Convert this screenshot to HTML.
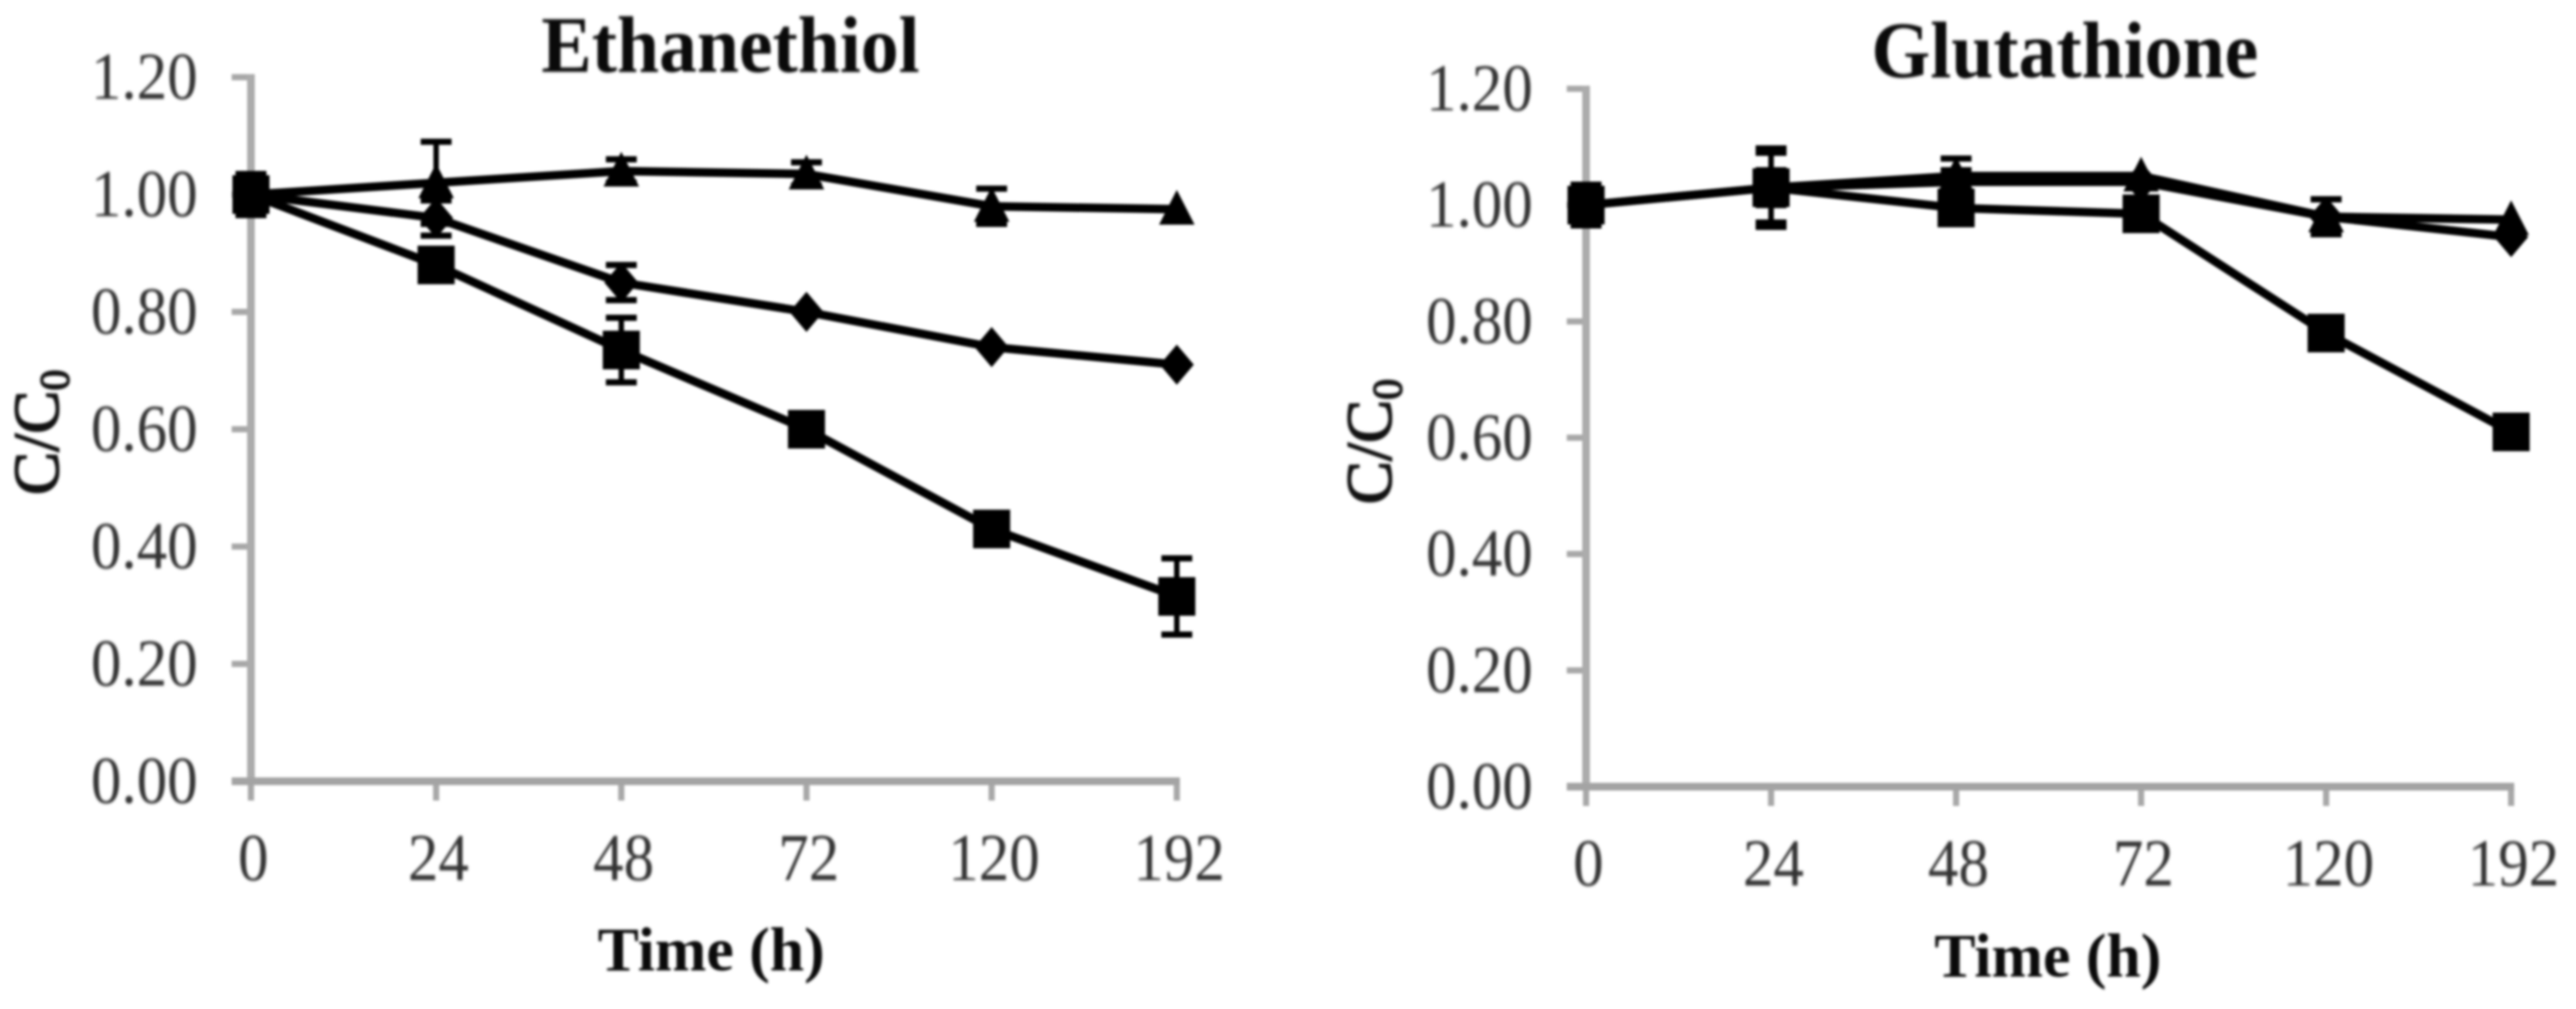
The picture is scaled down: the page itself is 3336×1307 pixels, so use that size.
<!DOCTYPE html>
<html lang="en">
<head>
<meta charset="utf-8">
<title>Ethanethiol and Glutathione C/C0 over time</title>
<style>
html,body{margin:0;padding:0;background:#fff;width:3336px;height:1307px;overflow:hidden}
svg{display:block;filter:blur(1.5px)}
text{font-family:"Liberation Serif",serif;filter:blur(0.9px)}
</style>
</head>
<body>
<svg id="figure" xmlns="http://www.w3.org/2000/svg" width="3336" height="1307" viewBox="0 0 3336 1307"></svg>
<script>
const categories = ['0', '24', '48', '72', '120', '192'];
const yTickValues = [0, 0.2, 0.4, 0.6, 0.8, 1.0, 1.2];

const ethTriangle = [1.00, 1.02, 1.04, 1.035, 0.98, 0.975];
const ethTriangleErr = [0, 0.07, 0.02, 0.02, 0.03, 0];
const ethDiamond = [1.00, 0.96, 0.85, 0.80, 0.74, 0.71];
const ethDiamondErr = [0.035, 0.03, 0.03, 0, 0, 0];
const ethSquare = [1.00, 0.88, 0.735, 0.60, 0.43, 0.315];
const ethSquareErr = [0, 0, 0.055, 0, 0, 0.065];

const gluTriangle = [1.00, 1.03, 1.05, 1.05, 0.98, 0.975];
const gluTriangleErr = [0, 0.06, 0.03, 0, 0.03, 0];
const gluDiamond = [1.00, 1.03, 1.04, 1.04, 0.98, 0.945];
const gluDiamondErr = [0.035, 0.0675, 0.02, 0, 0.03, 0];
const gluSquare = [1.00, 1.03, 0.995, 0.985, 0.78, 0.61];
const gluSquareErr = [0, 0.03, 0, 0, 0, 0];

const NS = 'http://www.w3.org/2000/svg';
const svg = document.getElementById('figure');

function make(parent, tag, props) {
  const node = document.createElementNS(NS, tag);
  for (const key in props) node.setAttribute(key, props[key]);
  parent.appendChild(node);
  return node;
}

function drawPanel(p) {
  const xOf = i => p.x0 + i * (p.x1 - p.x0) / (categories.length - 1);
  const yOf = v => p.y0 + (p.y1 - p.y0) * v / 1.2;

  const panel = make(svg, 'g', {});
  
  

  const title = make(panel, 'text', {'text-anchor': 'middle', 'font-size': 98, 'font-weight': 'bold', fill: '#0a0a0a', transform: 'translate(' + p.titleX + ' ' + p.titleY + ') scale(1 1.06)'});
  title.textContent = p.title;
  
  

  yTickValues.forEach(v => {
    const tick = make(panel, 'line', {x1: p.x0 - 25, x2: p.x0, y1: yOf(v), y2: yOf(v), stroke: '#a8a8a8', 'stroke-width': 8});
    
    
    const label = make(panel, 'text', {'text-anchor': 'end', 'font-size': 79, fill: '#333', transform: 'translate(' + (p.x0 - 69) + ' ' + (yOf(v) + 28) + ') scale(1 1.1)'});
    label.textContent = v.toFixed(2);
    
    
  });

  categories.forEach((c, i) => {
    const tick = make(panel, 'line', {x1: xOf(i), x2: xOf(i), y1: p.y0, y2: p.y0 + 25, stroke: '#a8a8a8', 'stroke-width': 8});
    
    
    const label = make(panel, 'text', {'text-anchor': 'middle', 'font-size': 79, fill: '#333', transform: 'translate(' + (xOf(i) + 3) + ' ' + (p.y0 + 128) + ') scale(1 1.1)'});
    label.textContent = c;
    
    
  });

  const yAxis = make(panel, 'line', {x1: p.x0, x2: p.x0, y1: p.y1 - 4, y2: p.y0 + 5, stroke: '#acacac', 'stroke-width': 10});
  
  
  const xAxis = make(panel, 'line', {x1: p.x0 - 25, x2: p.x1 + 4, y1: p.y0, y2: p.y0, stroke: '#a4a4a4', 'stroke-width': 10});
  
  

  const xTitle = make(panel, 'text', {x: p.xTitleX, y: p.xTitleY, 'text-anchor': 'middle', 'font-size': 80, 'font-weight': 'bold', fill: '#0a0a0a'});
  xTitle.textContent = 'Time (h)';
  
  

  const yTitle = make(panel, 'text', {'text-anchor': 'middle', 'font-size': 84, fill: '#111', stroke: '#111', 'stroke-width': 2, transform: 'translate(' + p.yTitleX + ' ' + p.yTitleY + ') rotate(-90)'});
  
  
  yTitle.appendChild(document.createTextNode('C/C'));
  const sub = make(yTitle, 'tspan', {'font-size': 54, dy: 14});
  sub.textContent = '0';

  p.series.forEach(s => {
    const group = make(panel, 'g', {});
    
    

    s.values.forEach((v, i) => {
      const e = s.errs[i];
      if (e <= 0) return;
      const bar = make(group, 'line', {x1: xOf(i), x2: xOf(i), y1: yOf(v + e), y2: yOf(v - e), stroke: '#000', 'stroke-width': 7});
      
      
      [v + e, v - e].forEach(end => {
        const cap = make(group, 'line', {x1: xOf(i) - 20, x2: xOf(i) + 20, y1: yOf(end), y2: yOf(end), stroke: '#000', 'stroke-width': 8});
        
        
      });
    });

    const pts = s.values.map((v, i) => xOf(i) + ',' + yOf(v)).join(' ');
    const line = make(group, 'polyline', {points: pts, fill: 'none', stroke: '#000', 'stroke-width': 11, 'stroke-linejoin': 'round'});
    
    

    s.values.forEach((v, i) => {
      const cx = xOf(i), cy = yOf(v);
      let mark;
      if (s.name === 'square') {
        mark = make(group, 'rect', {x: cx - 24, y: cy - 25, width: 48, height: 50, fill: '#000'});
      } else if (s.name === 'triangle') {
        mark = make(group, 'polygon', {points: (cx - 23) + ',' + (cy + 20) + ' ' + (cx + 23) + ',' + (cy + 20) + ' ' + cx + ',' + (cy - 25), fill: '#000'});
      } else {
        mark = make(group, 'polygon', {points: cx + ',' + (cy - 26) + ' ' + (cx + 22) + ',' + cy + ' ' + cx + ',' + (cy + 26) + ' ' + (cx - 22) + ',' + cy, fill: '#000'});
      }
      
      
    });
  });
}

drawPanel({
  key: 'ethanethiol', title: 'Ethanethiol',
  x0: 325, x1: 1524, y0: 1012, y1: 100,
  titleX: 946, titleY: 93, xTitleX: 921, xTitleY: 1257, yTitleX: 75, yTitleY: 560,
  series: [
    {name: 'triangle', values: ethTriangle, errs: ethTriangleErr},
    {name: 'diamond', values: ethDiamond, errs: ethDiamondErr},
    {name: 'square', values: ethSquare, errs: ethSquareErr}
  ]
});

drawPanel({
  key: 'glutathione', title: 'Glutathione',
  x0: 2054, x1: 3252, y0: 1019, y1: 115,
  titleX: 2674, titleY: 100, xTitleX: 2652, xTitleY: 1265, yTitleX: 1801, yTitleY: 572,
  series: [
    {name: 'diamond', values: gluDiamond, errs: gluDiamondErr},
    {name: 'triangle', values: gluTriangle, errs: gluTriangleErr},
    {name: 'square', values: gluSquare, errs: gluSquareErr}
  ]
});
</script>
</body>
</html>
